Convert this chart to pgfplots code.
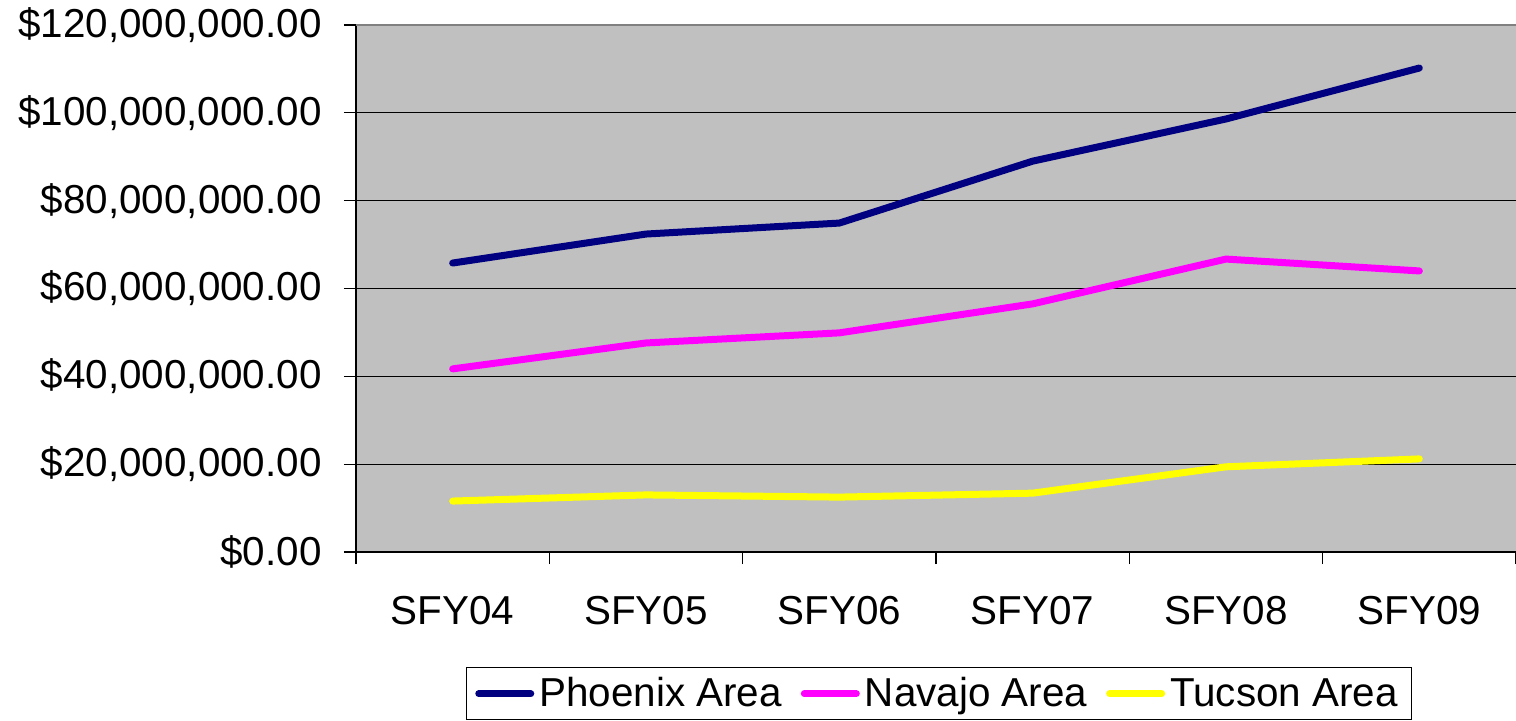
\documentclass[border=0pt]{standalone}
\usepackage{fontspec}
\setmainfont{Liberation Sans}
\usepackage{pgfplots}
\pgfplotsset{compat=1.18}
\definecolor{bgray}{HTML}{C0C0C0}
\definecolor{phx}{HTML}{000080}
\definecolor{nav}{HTML}{FF00FF}
\definecolor{tuc}{HTML}{FFFF00}
\newcommand{\chartfont}{\fontsize{20.2pt}{24pt}\selectfont}
\begin{document}
\begin{tikzpicture}
\begin{axis}[
  scale only axis, width=580pt, height=263.5pt,
  at={(0,0)}, anchor=south west,
  xmin=-0.5, xmax=5.5, ymin=0, ymax=120,
  axis background/.style={fill=bgray},
  axis x line=bottom, axis y line=left,
  axis line style={-, black, line width=0.6pt},
  tick align=outside, major tick length=6pt,
  tick style={black, line width=0.6pt},
  xtick={-0.5,0.5,1.5,2.5,3.5,4.5,5.5},
  xticklabels={SFY04,SFY05,SFY06,SFY07,SFY08,SFY09,{}},
  xticklabel style={font=\chartfont, xshift=48.33pt, inner sep=0pt, anchor=north, yshift=-16pt},
  ytick={0,20,40,60,80,100,120},
  yticklabels={\$0.00,{\$20,000,000.00},{\$40,000,000.00},{\$60,000,000.00},{\$80,000,000.00},{\$100,000,000.00},{\$120,000,000.00}},
  yticklabel style={font=\chartfont, inner sep=0pt, anchor=east, xshift=-11pt},
  ymajorgrids, major grid style={black, line width=0.5pt},
  legend style={at={(0.5,0)}, anchor=north, xshift=1.5pt, yshift=-57.5pt, draw=black, line width=0.6pt,
    font=\chartfont, legend columns=3, inner xsep=4.5pt, inner ysep=2pt,
    /tikz/every even column/.append style={column sep=7pt},
    nodes={inner xsep=2.5pt, inner ysep=3pt}},
  legend image code/.code={\draw[#1, line width=3.5pt, line cap=round] (0pt,0pt) -- (26pt,0pt);},
  clip=false,
]
\addplot[phx, line width=3.5pt, line cap=round, line join=round] coordinates {(0,65.8) (1,72.4) (2,74.9) (3,89.0) (4,98.6) (5,110.2)};
\addlegendentry{Phoenix Area}
\addplot[nav, line width=3.5pt, line cap=round, line join=round] coordinates {(0,41.7) (1,47.6) (2,49.9) (3,56.5) (4,66.7) (5,64.0)};
\addlegendentry{Navajo Area}
\addplot[tuc, line width=3.5pt, line cap=round, line join=round] coordinates {(0,11.6) (1,13.0) (2,12.5) (3,13.4) (4,19.4) (5,21.2)};
\addlegendentry{Tucson Area}
\draw[gray, line width=1pt] (rel axis cs:0,1) -- (rel axis cs:1,1);
\end{axis}
\pgfresetboundingbox
\useasboundingbox (-178pt,-84pt) rectangle (580pt,276pt);
\end{tikzpicture}
\end{document}
